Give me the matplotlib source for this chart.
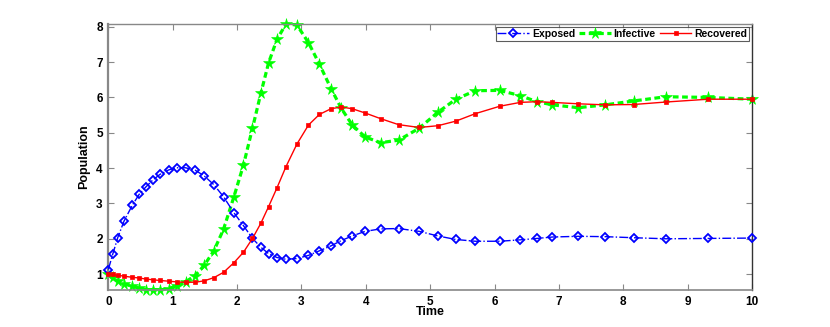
import matplotlib
matplotlib.use('Agg')
import matplotlib.pyplot as plt
import numpy as np

# solver output times
time = [0.0, 0.068, 0.146, 0.244, 0.373, 0.48, 0.585, 0.69, 0.80, 0.94,
        1.06, 1.20, 1.35, 1.49, 1.64, 1.79, 1.95, 2.10, 2.24, 2.37,
        2.49, 2.62, 2.76, 2.93, 3.11, 3.28, 3.46, 3.62, 3.79, 3.99,
        4.23, 4.51, 4.83, 5.12, 5.40, 5.70, 6.08, 6.40, 6.66, 6.90,
        7.30, 7.72, 8.16, 8.66, 9.32, 10.0]

exposed = [1.13, 1.56, 2.03, 2.50, 2.95, 3.26, 3.47, 3.66, 3.82, 3.95,
           4.01, 4.01, 3.94, 3.78, 3.53, 3.19, 2.74, 2.37, 2.01, 1.76,
           1.58, 1.47, 1.42, 1.44, 1.53, 1.66, 1.80, 1.95, 2.08, 2.21,
           2.28, 2.29, 2.21, 2.08, 1.98, 1.93, 1.93, 1.97, 2.01, 2.05,
           2.07, 2.06, 2.03, 2.00, 2.01, 2.02]

infective = [1.00, 0.92, 0.81, 0.72, 0.66, 0.60, 0.56, 0.55, 0.55, 0.59,
             0.67, 0.78, 0.96, 1.25, 1.66, 2.27, 3.18, 4.09, 5.13, 6.12,
             6.98, 7.64, 8.08, 8.05, 7.55, 6.94, 6.25, 5.69, 5.22, 4.88,
             4.72, 4.79, 5.13, 5.58, 5.95, 6.19, 6.20, 6.05, 5.88, 5.79,
             5.71, 5.79, 5.90, 6.02, 6.00, 5.95]

recovered = [1.00, 0.99, 0.97, 0.94, 0.91, 0.89, 0.86, 0.84, 0.82, 0.80,
             0.78, 0.77, 0.77, 0.81, 0.90, 1.05, 1.32, 1.62, 2.01, 2.44,
             2.91, 3.44, 4.04, 4.68, 5.22, 5.52, 5.68, 5.73, 5.68, 5.56,
             5.40, 5.23, 5.15, 5.20, 5.33, 5.54, 5.75, 5.86, 5.88, 5.86,
             5.82, 5.79, 5.80, 5.87, 5.95, 5.95]

font = 'Liberation Sans'
plt.rcParams['font.family'] = [font, 'DejaVu Sans']

fig = plt.figure(figsize=(8.3, 3.27), dpi=100)
ax = fig.add_axes([0.1305, 0.1131, 0.7755, 0.8126])

ax.plot(time, exposed, color='#0000ff', linestyle='-.', linewidth=1.0,
        marker='D', markersize=3.8, markerfacecolor='none', markeredgewidth=1.3,
        label='Exposed', clip_on=False, zorder=3)
ax.plot(time, infective, color='#00ff00', linestyle=(0, (1.8, 1.1)), linewidth=2.3,
        marker='*', markersize=8.5, markeredgewidth=0.4,
        label='Infective', clip_on=False, zorder=2)
ax.plot(time, recovered, color='#ff0000', linestyle='-', linewidth=1.0,
        marker='s', markersize=2.2, markeredgewidth=0.5,
        label='Recovered', clip_on=False, zorder=4)

ax.set_xlim(0, 10)
ax.set_ylim(0.55, 8.07)
ax.set_xticks(range(0, 11))
ax.set_yticks(range(1, 9))

ax.tick_params(direction='in', length=4, width=0.8, color='#888888',
               top=True, right=True, labelsize=8.5, pad=4)
for lab in ax.get_xticklabels() + ax.get_yticklabels():
    lab.set_fontweight('bold')

for side in ['left', 'top', 'bottom']:
    ax.spines[side].set_color('#888888')
ax.spines['left'].set_linewidth(1.6)
ax.spines['bottom'].set_linewidth(1.2)
ax.spines['top'].set_linewidth(1.0)
ax.spines['right'].set_color('#333333')
ax.spines['right'].set_linewidth(1.0)

ax.set_xlabel('Time', fontsize=9, fontweight='bold', labelpad=-1)
ax.set_ylabel('Population', fontsize=9, fontweight='bold', labelpad=4)

leg = ax.legend(loc='upper right', ncol=3, frameon=True, fancybox=False,
                borderpad=0.15, handlelength=3.0, handletextpad=0.3, columnspacing=0.4,
                borderaxespad=0.3, prop={'weight': 'bold', 'size': 7.5, 'family': font})
leg.get_frame().set_edgecolor('#333333')
leg.get_frame().set_linewidth(0.8)

fig.savefig('out.png', dpi=100)
